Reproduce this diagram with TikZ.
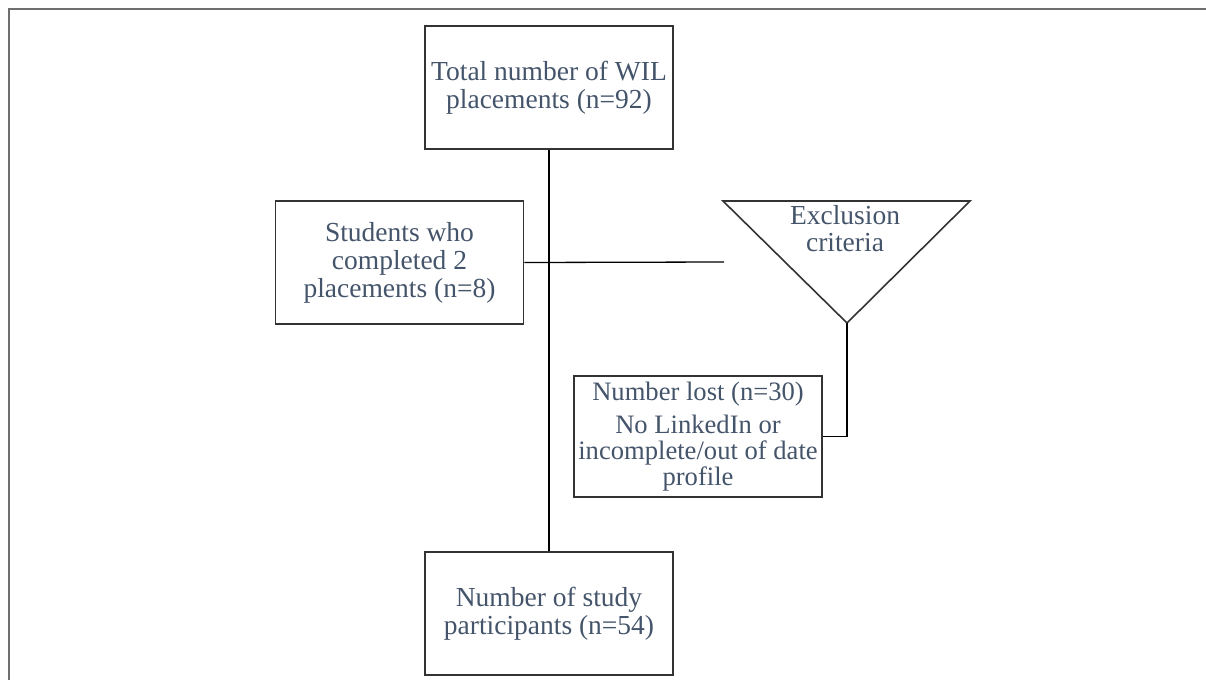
\documentclass[tikz,border=0pt]{standalone}
\usepackage{fontspec}
\setmainfont{Liberation Serif}
\definecolor{txtc}{HTML}{44546A}
\definecolor{framec}{HTML}{6E6E6E}
\definecolor{boxc}{HTML}{333333}
\begin{document}
\begin{tikzpicture}[x=1pt,y=-1pt,
  boxstyle/.style={draw=boxc,line width=1.6pt,minimum width=248pt,minimum height=123pt,inner sep=0pt,align=center,text=txtc,font=\fontsize{27.5}{28}\selectfont},
  txtstyle/.style={inner sep=0pt,align=center,text=txtc,font=\fontsize{27.5}{27}\selectfont},
  conn/.style={draw=black,line width=1.3pt}]
\useasboundingbox (0,0) rectangle (1206,680);
\draw[framec,line width=2pt] (1206,9) -- (9,9) -- (9,680);
\node[boxstyle] (top) at (549,87.5) {Total number of WIL\\placements (n=92)};
\node[boxstyle] (students) at (399.5,262.5) {Students who\\completed 2\\placements (n=8)};
\node[boxstyle] (bottom) at (549,613.5) {Number of study\\participants (n=54)};
\node[boxstyle,minimum width=248pt,minimum height=121pt,font=\fontsize{26.6}{26}\selectfont] (lost) at (698,436.5) {Number lost (n=30)\\[7pt]No LinkedIn or\\incomplete/out of date\\profile};
\coordinate (tl) at (723,201);
\coordinate (tr) at (970,201);
\coordinate (apex) at (847,323);
\draw[boxc,line width=1.6pt,line join=miter] (tl) -- (tr) -- (apex) -- cycle;
\node[txtstyle] (excl) at (845,229) {Exclusion\\criteria};
\coordinate (hend) at (724,262);
\draw[conn] (top.south) -- (bottom.north);
\draw[conn] (students.east) -- (hend);
\draw[conn] (apex) |- (lost.east);
\end{tikzpicture}
\end{document}
